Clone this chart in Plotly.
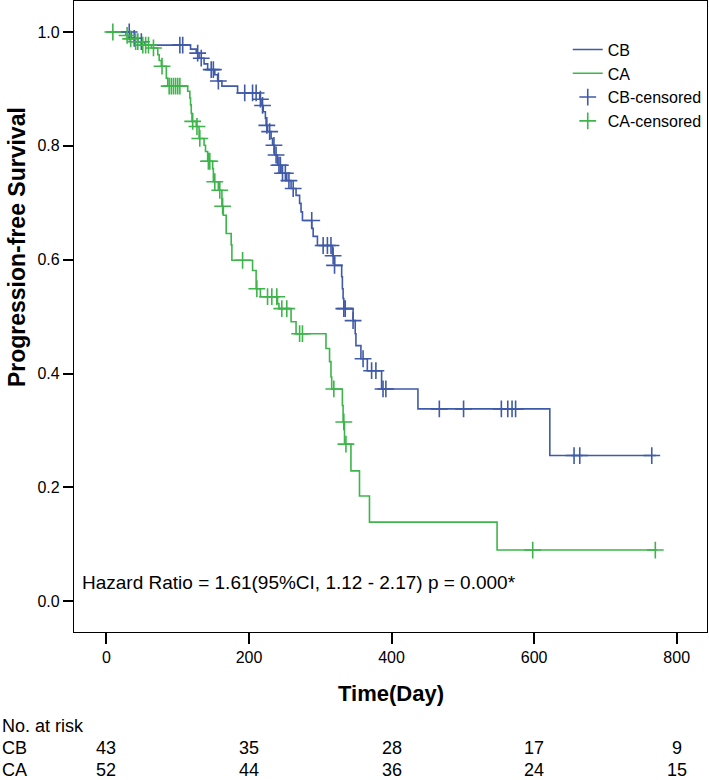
import plotly.graph_objects as go

# ---- data ----
cb_time = [0, 35, 44, 54, 118, 126, 130, 137, 142, 152, 156, 162, 184, 215, 217, 220, 223, 224, 226,
           231, 233, 236, 240, 245, 253, 259, 266, 271, 273, 275, 288, 290, 296, 317, 320, 330, 331,
           332, 333, 346, 349, 350, 357, 366, 386, 437, 622, 771]
cb_surv = [1.0, 0.989, 0.983, 0.977, 0.970, 0.963, 0.954, 0.944, 0.934, 0.925, 0.914, 0.905, 0.893,
           0.882, 0.871, 0.860, 0.848, 0.836, 0.825, 0.813, 0.801, 0.784, 0.766, 0.752, 0.739, 0.725,
           0.713, 0.699, 0.684, 0.669, 0.655, 0.641, 0.625, 0.607, 0.590, 0.570, 0.549, 0.532, 0.514,
           0.493, 0.470, 0.449, 0.426, 0.405, 0.373, 0.338, 0.256, 0.256]

cb_cens_time = [32, 39, 49, 103, 107, 128, 133, 147, 150, 157, 194, 205, 210, 216, 219, 225, 229, 235,
                238, 242, 244, 247, 251, 256, 262, 288, 304, 310, 315, 318, 320, 333, 335, 346, 360,
                372, 378, 388, 392, 467, 501, 554, 563, 569, 574, 656, 664, 765]
cb_cens_surv = [1.0, 0.989, 0.983, 0.977, 0.977, 0.963, 0.954, 0.934, 0.934, 0.914, 0.893, 0.893, 0.893,
                0.882, 0.871, 0.836, 0.825, 0.801, 0.784, 0.766, 0.766, 0.752, 0.752, 0.739, 0.725,
                0.669, 0.625, 0.625, 0.625, 0.607, 0.590, 0.514, 0.514, 0.493, 0.426, 0.405, 0.405,
                0.373, 0.373, 0.338, 0.338, 0.338, 0.338, 0.338, 0.338, 0.256, 0.256, 0.256]

ca_time = [0, 27, 32, 39, 49, 63, 72, 74, 77, 84, 86, 114, 117, 118, 119, 120, 126, 130, 137, 139, 142,
           149, 150, 157, 162, 164, 168, 175, 176, 205, 210, 216, 240, 242, 259, 266, 308, 313, 315,
           316, 331, 332, 334, 343, 355, 369, 548, 772]
ca_surv = [1.0, 0.994, 0.988, 0.983, 0.977, 0.972, 0.960, 0.950, 0.940, 0.919, 0.905, 0.896, 0.884,
           0.872, 0.857, 0.843, 0.834, 0.813, 0.801, 0.790, 0.773, 0.760, 0.737, 0.722, 0.694, 0.678,
           0.646, 0.626, 0.599, 0.581, 0.549, 0.535, 0.523, 0.514, 0.491, 0.470, 0.444, 0.421, 0.394,
           0.373, 0.344, 0.315, 0.276, 0.229, 0.185, 0.139, 0.090, 0.090]

ca_cens_time = [9, 29, 34, 41, 44, 51, 55, 59, 66, 78, 88, 91, 94, 97, 100, 103, 121, 127, 131, 143, 145,
                152, 159, 163, 191, 211, 226, 232, 239, 246, 253, 271, 275, 319, 333, 336, 598, 770]
ca_cens_surv = [1.0, 0.994, 0.988, 0.983, 0.983, 0.977, 0.977, 0.977, 0.972, 0.940, 0.905, 0.905, 0.905,
                0.905, 0.905, 0.905, 0.843, 0.834, 0.813, 0.773, 0.773, 0.737, 0.722, 0.694, 0.599,
                0.549, 0.535, 0.535, 0.535, 0.514, 0.514, 0.470, 0.470, 0.373, 0.315, 0.276, 0.090, 0.090]

risk_times = [0, 200, 400, 600, 800]
risk_cb = [43, 35, 28, 17, 9]
risk_ca = [52, 44, 36, 24, 15]

x_ticks = [0, 200, 400, 600, 800]
y_ticks = [0.0, 0.2, 0.4, 0.6, 0.8, 1.0]
hazard_text = "Hazard Ratio = 1.61(95%CI, 1.12 - 2.17) p = 0.000*"

BLUE = "#3F5AA8"
GREEN = "#3DB54A"
FONT = "Liberation Sans, Arial, Helvetica, sans-serif"

fig = go.Figure()
fig.add_trace(go.Scatter(x=cb_time, y=cb_surv, mode="lines", line=dict(color=BLUE, width=1.6, shape="hv"),
                         name="CB"))
fig.add_trace(go.Scatter(x=ca_time, y=ca_surv, mode="lines", line=dict(color=GREEN, width=1.6, shape="hv"),
                         name="CA"))
fig.add_trace(go.Scatter(x=cb_cens_time, y=cb_cens_surv, mode="markers",
                         marker=dict(symbol="cross-thin", size=12, line=dict(color=BLUE, width=1.6)),
                         name="CB-censored"))
fig.add_trace(go.Scatter(x=ca_cens_time, y=ca_cens_surv, mode="markers",
                         marker=dict(symbol="cross-thin", size=12, line=dict(color=GREEN, width=1.6)),
                         name="CA-censored"))

annotations = [
    dict(text=hazard_text, xref="paper", yref="paper", x=0.0095, y=0.0777, xanchor="left", yanchor="middle",
         showarrow=False, font=dict(size=19, color="black", family=FONT)),
    dict(text="<b>Progression-free Survival</b>", xref="paper", yref="paper", x=-0.09, y=0.61,
         xanchor="center", yanchor="middle", textangle=-90, showarrow=False,
         font=dict(size=23, color="black", family=FONT)),
    dict(text="<b>Time(Day)</b>", xref="paper", yref="paper", x=0.5, y=-0.0967, xanchor="center",
         yanchor="middle", showarrow=False, font=dict(size=22, color="black", family=FONT)),
    dict(text="No. at risk", xref="paper", yref="paper", x=-0.117, y=-0.149, xanchor="left",
         yanchor="middle", showarrow=False, font=dict(size=18, color="black", family=FONT)),
    dict(text="CB", xref="paper", yref="paper", x=-0.117, y=-0.184, xanchor="left",
         yanchor="middle", showarrow=False, font=dict(size=18, color="black", family=FONT)),
    dict(text="CA", xref="paper", yref="paper", x=-0.117, y=-0.218, xanchor="left",
         yanchor="middle", showarrow=False, font=dict(size=18, color="black", family=FONT)),
]
for t, v in zip(risk_times, risk_cb):
    annotations.append(dict(text=str(v), xref="x", yref="paper", x=t, y=-0.184, xanchor="center",
                            yanchor="middle", showarrow=False, font=dict(size=18, color="black", family=FONT)))
for t, v in zip(risk_times, risk_ca):
    annotations.append(dict(text=str(v), xref="x", yref="paper", x=t, y=-0.218, xanchor="center",
                            yanchor="middle", showarrow=False, font=dict(size=18, color="black", family=FONT)))

fig.update_layout(
    width=709, height=780,
    margin=dict(l=74, r=2, t=1, b=148, autoexpand=False),
    paper_bgcolor="white", plot_bgcolor="white",
    font=dict(family=FONT, color="black"),
    showlegend=True,
    legend=dict(x=0.78, y=0.95, xanchor="left", yanchor="top", bgcolor="rgba(0,0,0,0)",
                font=dict(size=16, family=FONT, color="black"), tracegroupgap=0, itemwidth=30),
    annotations=annotations,
    xaxis=dict(range=[-45.5, 842.5], tickvals=x_ticks, ticktext=[str(v) for v in x_ticks],
               showgrid=False, zeroline=False, showline=True, linecolor="black", linewidth=1.3,
               mirror=True, ticks="outside", ticklen=11, tickwidth=1.5, tickcolor="black",
               tickfont=dict(size=16, family=FONT, color="black")),
    yaxis=dict(range=[-0.054, 1.0545], tickvals=y_ticks, ticktext=["%.1f" % v for v in y_ticks],
               showgrid=False, zeroline=False, showline=True, linecolor="black", linewidth=1.3,
               mirror=True, ticks="outside", ticklen=10, tickwidth=1.5, tickcolor="black",
               tickfont=dict(size=16, family=FONT, color="black")),
)

fig.write_html("out.html", config={"displayModeBar": False},
               post_script="document.body.style.margin='0';document.body.style.overflow='hidden';")
